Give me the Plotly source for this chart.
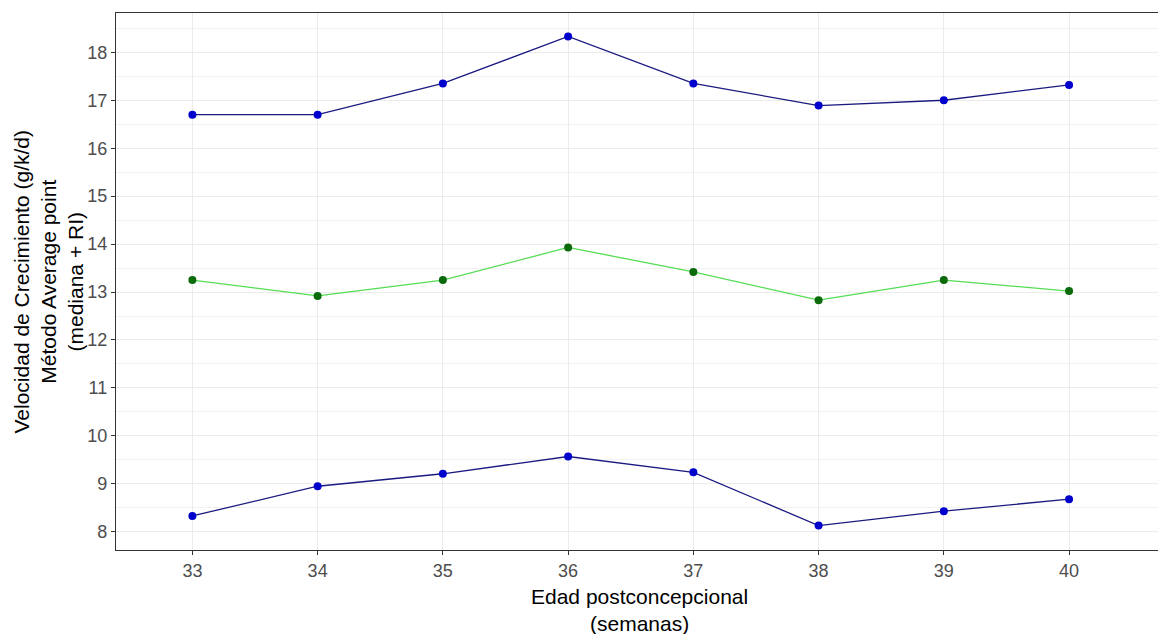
import plotly.graph_objects as go

semanas = [33, 34, 35, 36, 37, 38, 39, 40]
p_superior = [16.70, 16.70, 17.35, 18.33, 17.35, 16.89, 17.00, 17.32]
mediana = [13.25, 12.92, 13.25, 13.93, 13.42, 12.83, 13.25, 13.02]
p_inferior = [8.33, 8.95, 9.21, 9.57, 9.24, 8.13, 8.43, 8.68]
y_ticks = [8, 9, 10, 11, 12, 13, 14, 15, 16, 17, 18]

x_title = ["Edad postconcepcional", "(semanas)"]
y_title = ["Velocidad de Crecimiento (g/k/d)", "Método Average point", "(mediana + RI)"]

fig = go.Figure()

def add_series(y, line_color, marker_color):
    fig.add_trace(go.Scatter(
        x=semanas, y=y, mode="lines+markers",
        line=dict(color=line_color, width=1.3),
        marker=dict(color=marker_color, size=8),
        showlegend=False, hoverinfo="x+y",
    ))

add_series(p_superior, "#1a1a80", "#0000CD")
add_series(mediana, "#55DD55", "#0B6B0B")
add_series(p_inferior, "#1a1a80", "#0000CD")

FONT = "Liberation Sans, Arial, sans-serif"
tickfont = dict(family=FONT, size=18, color="#4D4D4D")
titlefont = dict(family=FONT, size=21, color="black")

annotations = [
    dict(text="<br>".join(x_title), xref="paper", yref="paper", x=0.5, y=0,
         xanchor="center", yanchor="middle", yshift=-60, align="center",
         showarrow=False, font=titlefont, borderpad=0),
    dict(text="<br>".join(y_title), xref="paper", yref="paper", x=0, y=0.5,
         xanchor="center", yanchor="middle", xshift=-68, align="center",
         textangle=-90, showarrow=False, font=titlefont, borderpad=0),
]

fig.update_layout(
    width=1158, height=626,
    margin=dict(l=108, r=3, t=5, b=84),
    paper_bgcolor="white", plot_bgcolor="white",
    font=dict(family=FONT),
    xaxis=dict(
        range=[32.39, 40.75], tickmode="array", tickvals=semanas,
        ticktext=[str(s) for s in semanas],
        showgrid=True, gridcolor="#EBEBEB", gridwidth=1,
        zeroline=False, showline=True, linecolor="#333333", linewidth=1.2, mirror=True,
        ticks="outside", ticklen=4, tickcolor="#333333", tickfont=tickfont,
    ),
    yaxis=dict(
        range=[7.62, 18.82], tickmode="array", tickvals=y_ticks,
        showgrid=True, gridcolor="#EBEBEB", gridwidth=1,
        minor=dict(tickmode="array", tickvals=[t - 0.5 for t in y_ticks] + [18.5],
                   showgrid=True, gridcolor="#F2F2F2", gridwidth=0.6, ticks=""),
        zeroline=False, showline=True, linecolor="#333333", linewidth=1.2, mirror=True,
        ticks="outside", ticklen=4, tickcolor="#333333", tickfont=tickfont,
    ),
    annotations=annotations,
)

fig.write_html("out.html")
